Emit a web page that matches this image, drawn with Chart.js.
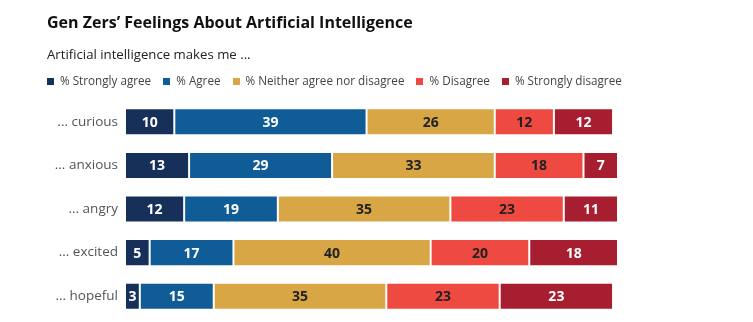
<!DOCTYPE html>
<html lang="en">
<head>
    <meta charset="UTF-8">
    <title>Gen Zers' Feelings About Artificial Intelligence</title>
    <script src="https://cdn.jsdelivr.net/npm/chart.js"></script>
    <style>
        body {
            margin: 0;
            background: #fff;
        }
        #chart-container {
            position: relative;
            width: 753px;
            height: 322px;
        }
        #legend {
            position: absolute;
            left: 47px;
            top: 73px;
            font-family: "Open Sans", sans-serif;
            font-size: 11.7px;
            line-height: 14px;
            color: #444;
            white-space: nowrap;
        }
        #legend .item {
            display: inline-block;
            margin-right: 12px;
        }
        #legend .box {
            display: inline-block;
            width: 7px;
            height: 7px;
            margin-right: 6px;
        }
    </style>
</head>
<body>
    <div id="chart-container">
        <canvas id="aiChart" width="753" height="322"></canvas>
        <div id="legend"></div>
    </div>

    <script>
        const categories = ['... curious', '... anxious', '... angry', '... excited', '... hopeful'];
        const seriesNames = ['% Strongly agree', '% Agree', '% Neither agree nor disagree', '% Disagree', '% Strongly disagree'];
        const stronglyAgree = [10, 13, 12, 5, 3];
        const agree = [39, 29, 19, 17, 15];
        const neither = [26, 33, 35, 40, 35];
        const disagree = [12, 18, 23, 20, 23];
        const stronglyDisagree = [12, 7, 11, 18, 23];

        const colors = ['#17305a', '#0f5c97', '#d9a646', '#ef4a41', '#a61e2f'];
        const labelColors = ['#ffffff', '#ffffff', '#222222', '#222222', '#ffffff'];
        const values = [stronglyAgree, agree, neither, disagree, stronglyDisagree];

        // 凡例はHTMLで作る
        const legendEl = document.getElementById('legend');
        seriesNames.forEach((name, i) => {
            const item = document.createElement('span');
            item.className = 'item';
            item.innerHTML = `<span class="box" style="background:${colors[i]}"></span>${name}`;
            legendEl.appendChild(item);
        });

        // 棒の中央に値を書く
        const barLabels = {
            id: 'barLabels',
            afterDatasetsDraw(chart) {
                const ctx = chart.ctx;
                ctx.save();
                ctx.font = 'bold 14px "Open Sans"';
                ctx.textAlign = 'center';
                ctx.textBaseline = 'middle';
                chart.data.datasets.forEach((ds, i) => {
                    const meta = chart.getDatasetMeta(i);
                    meta.data.forEach((bar, j) => {
                        const x = (bar.x + bar.base) / 2;
                        ctx.fillStyle = labelColors[i];
                        ctx.fillText(ds.data[j], x, bar.y + 1);
                    });
                });
                ctx.restore();
            }
        };

        new Chart(document.getElementById('aiChart'), {
            type: 'bar',
            data: {
                labels: categories,
                datasets: values.map((v, i) => ({
                    label: seriesNames[i],
                    data: v,
                    backgroundColor: colors[i],
                    borderColor: 'rgba(255,255,255,0.75)',
                    borderWidth: 1,
                    borderSkipped: false,
                    barPercentage: 0.62,
                    categoryPercentage: 1.0
                }))
            },
            options: {
                indexAxis: 'y',
                responsive: false,
                animation: false,
                layout: {
                    padding: { left: 47, right: 135, top: 0, bottom: 4 }
                },
                scales: {
                    x: {
                        stacked: true,
                        min: 0,
                        max: 100,
                        display: false
                    },
                    y: {
                        stacked: true,
                        grid: { display: false, drawTicks: false },
                        border: { display: false },
                        ticks: {
                            color: '#555555',
                            font: { family: 'Open Sans', size: 13.5 },
                            padding: 7
                        },
                        afterFit(scale) {
                            scale.width = 78;
                            scale.paddingTop = 0;
                            scale.paddingBottom = 0;
                        }
                    }
                },
                plugins: {
                    title: {
                        display: true,
                        text: 'Gen Zers\u2019 Feelings About Artificial Intelligence',
                        align: 'start',
                        color: '#111111',
                        font: { family: 'Open Sans', size: 16, weight: 'bold' },
                        padding: { top: 14, bottom: 8 }
                    },
                    subtitle: {
                        display: true,
                        text: 'Artificial intelligence makes me ...',
                        align: 'start',
                        color: '#222222',
                        font: { family: 'Open Sans', size: 13.2 },
                        padding: { top: 6, bottom: 37 }
                    },
                    legend: { display: false },
                    tooltip: { enabled: false }
                }
            },
            plugins: [barLabels]
        });
    </script>
</body>
</html>
